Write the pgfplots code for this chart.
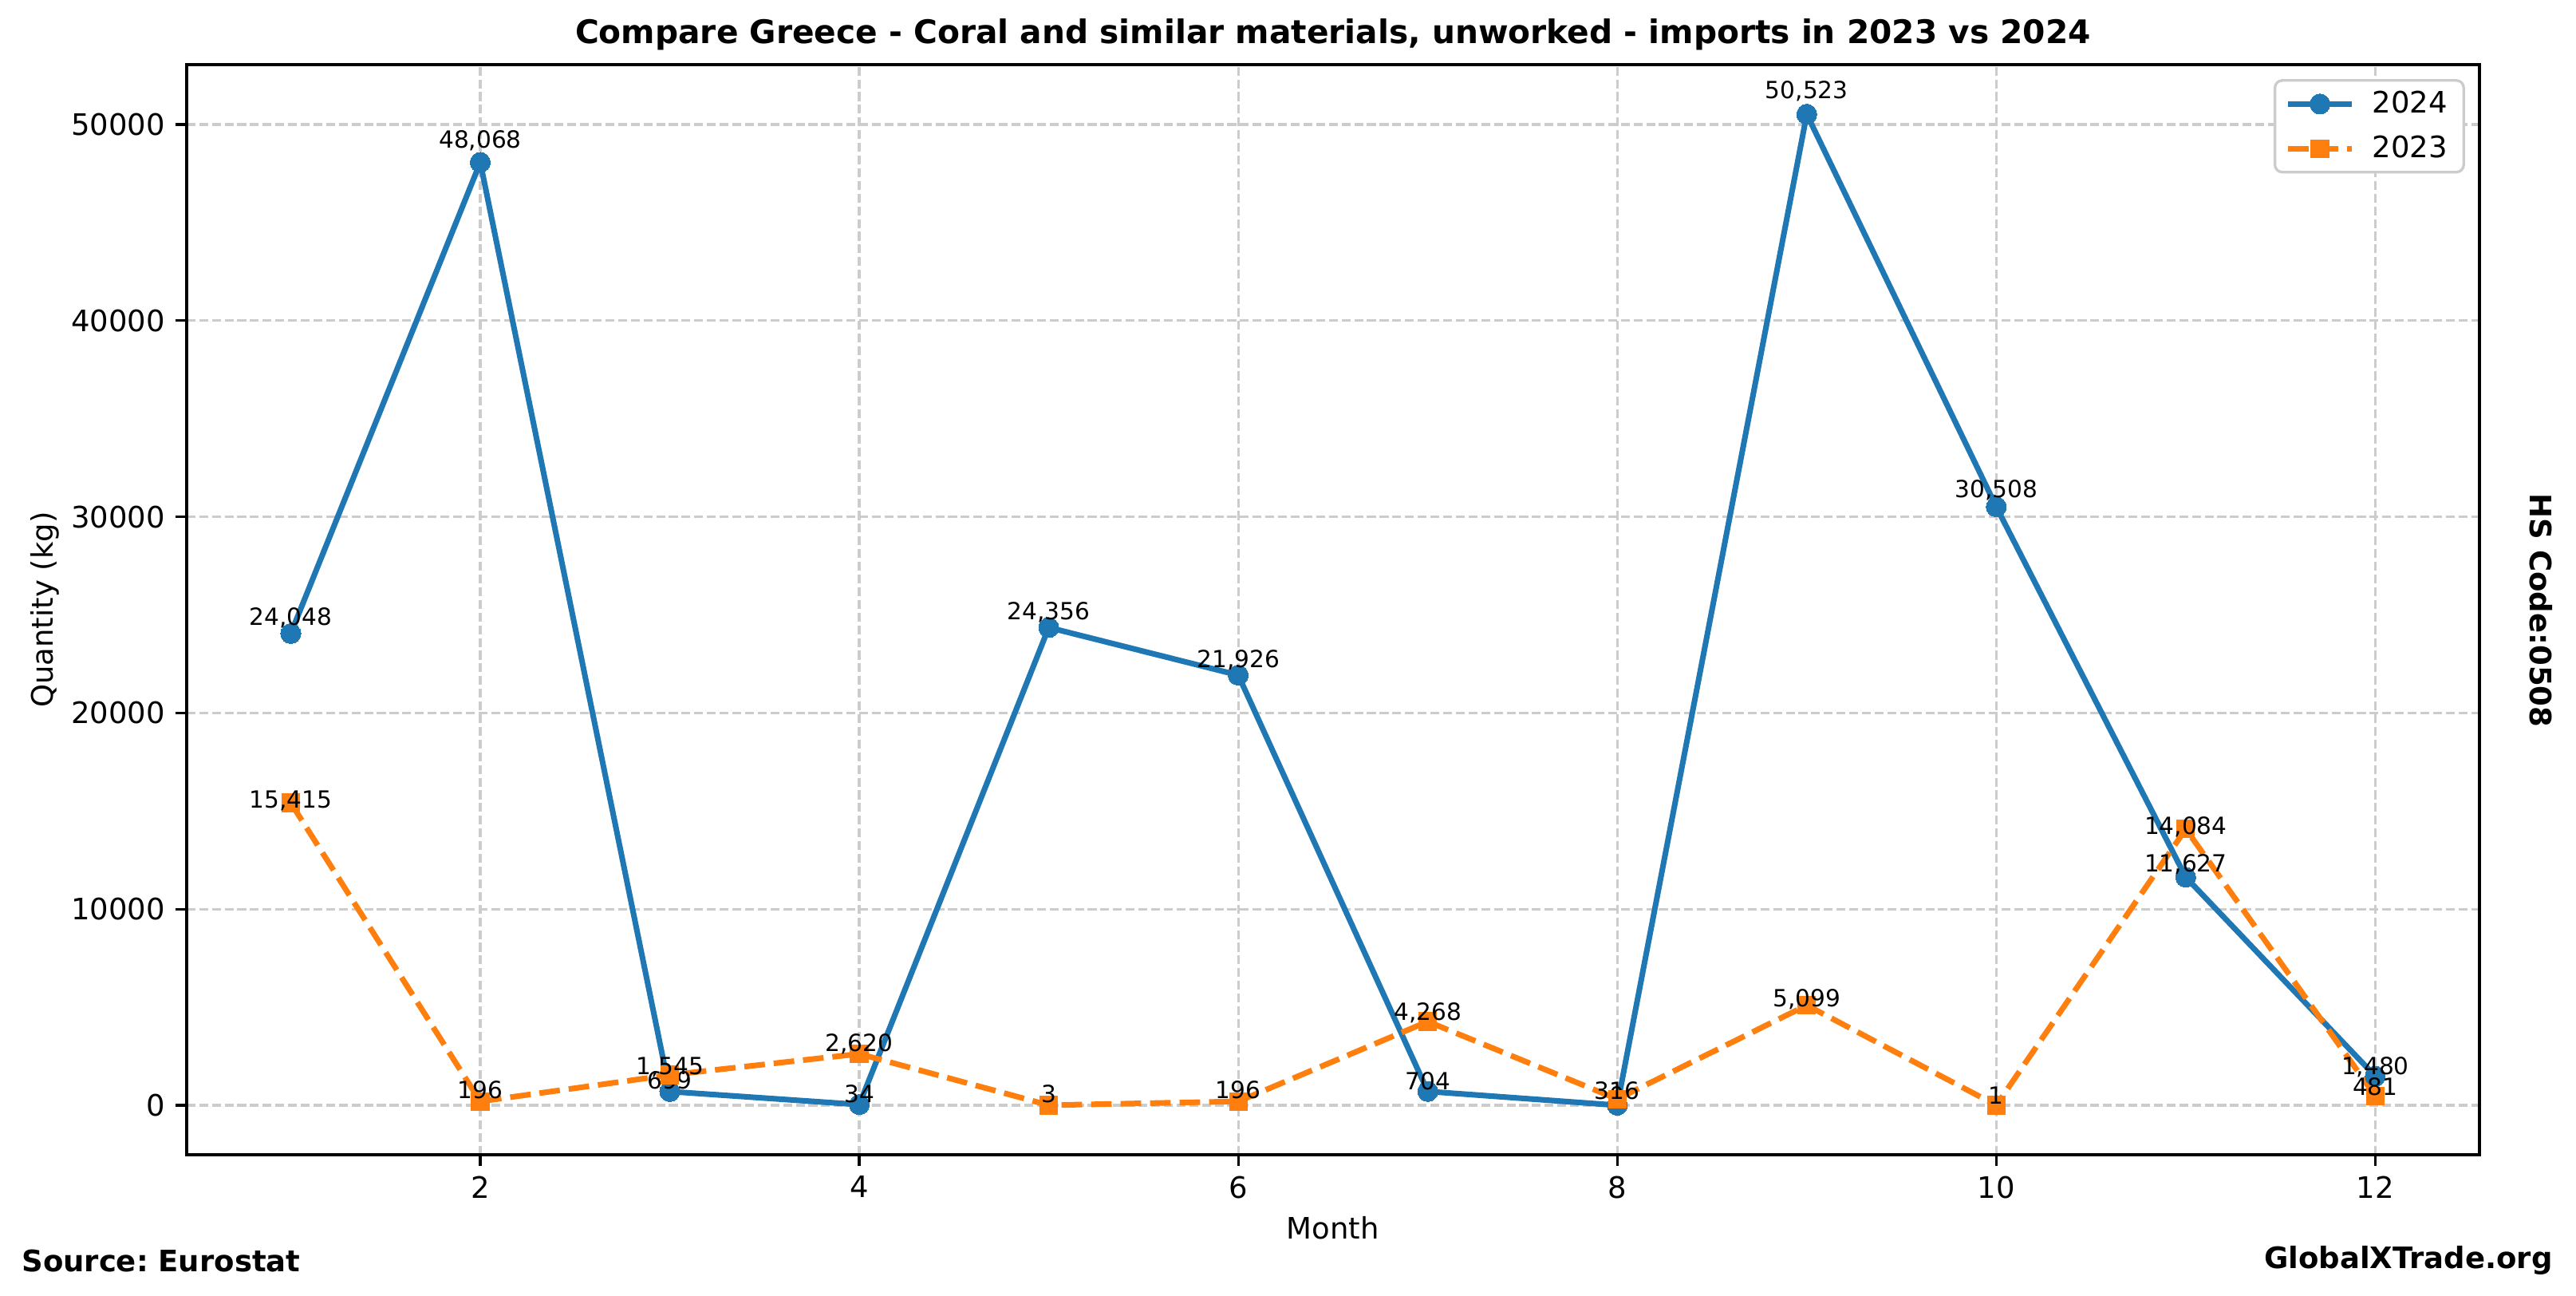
\documentclass[border=0pt]{standalone}
\usepackage{fontspec}
\setmainfont{DejaVu Sans}
\usepackage{pgfplots}
\usepackage{pgfplotstable}
\pgfplotsset{compat=1.18}
\frenchspacing

\definecolor{tabblue}{HTML}{1F77B4}
\definecolor{taborange}{HTML}{FF7F0E}
\definecolor{gridgray}{HTML}{CCCCCC}

% month, value, label, label lift (pt)
\pgfplotstableread{
m v lab dy
1 24048 {24,048} 2.7
2 48068 {48,068} 4.9
3 699 {699} 0.8
4 34 {34} 0.8
5 24356 {24,356} 2.7
6 21926 {21,926} 2.7
7 704 {704} 0.5
8 0 {0} 0.5
9 50523 {50,523} 5.4
10 30508 {30,508} 3.2
11 11627 {11,627} 1.9
12 1480 {1,480} 0.6
}\yeartwentyfour

\pgfplotstableread{
m v lab dy
1 15415 {15,415} -1.6
2 196 {196} 1.1
3 1545 {1,545} 0.2
4 2620 {2,620} 0.8
5 3 {3} 0.8
6 196 {196} 1.1
7 4268 {4,268} 0.3
8 316 {316} 0
9 5099 {5,099} -0.5
10 1 {1} 0.3
11 14084 {14,084} -1.9
12 481 {481} 0.2
}\yeartwentythree

\begin{document}
\begin{tikzpicture}
\useasboundingbox (0,0) rectangle (872.7pt,438.9pt);
\begin{axis}[
    at={(63.2pt,47.8pt)}, anchor=south west,
    scale only axis, width=776.8pt, height=369.2pt,
    xmin=0.45, xmax=12.55, ymin=-2526, ymax=53049,
    xtick={2,4,6,8,10,12},
    ytick={0,10000,20000,30000,40000,50000},
    scaled y ticks=false,
    /pgf/number format/assume math mode=true,
    yticklabel style={/pgf/number format/1000 sep={}},
    tick label style={font=\fontsize{10}{12}\selectfont},
    tick align=outside, tick pos=left, major tick length=3.7pt,
    tick style={black, line width=0.9pt},
    axis line style={line width=0.9pt},
    grid=major,
    major grid style={gridgray, line width=0.9pt, dash pattern=on 3pt off 1.3pt},
    clip=false,
    legend cell align=left,
    legend image code/.code={\draw[mark repeat=2,mark phase=2,#1] plot coordinates {(0pt,0pt) (10.8pt,0pt) (21.6pt,0pt)};},
    legend style={at={(1,1)}, anchor=north east, xshift=-4.9pt, yshift=-4.9pt,
        draw=gridgray, line width=0.9pt, rounded corners=2.5pt, fill=white,
        font=\fontsize{10}{12}\selectfont, inner xsep=3.5pt, inner ysep=1.5pt, row sep=2.2pt,
        /tikz/every odd column/.append style={column sep=4pt}},
    nodes near coords,
    point meta=explicit symbolic,
    visualization depends on={\thisrow{dy} \as \dy},
    nodes near coords style={anchor=base, yshift=\dy pt, inner sep=0pt, text=black,
        font=\fontsize{8}{9.6}\selectfont},
]
\addplot[tabblue, line width=1.9pt, mark=*, mark size=3.4pt,
    mark options={solid, fill=tabblue, draw=tabblue, line width=0pt}]
    table[x=m, y=v, meta=lab] {\yeartwentyfour};
\addlegendentry{2024}
\addplot[taborange, line width=1.9pt, dash pattern=on 7pt off 3pt, mark=square*, mark size=3pt,
    mark options={solid, fill=taborange, draw=taborange, line width=0pt}]
    table[x=m, y=v, meta=lab] {\yeartwentythree};
\addlegendentry{2023}
\end{axis}
\node[font=\bfseries\fontsize{11}{13}\selectfont] at (451.6pt,427.3pt)
    {Compare Greece - Coral and similar materials, unworked - imports in 2023 vs 2024};
\node[font=\fontsize{10}{12}\selectfont] at (451.6pt,22.9pt) {Month};
\node[rotate=90, font=\fontsize{10}{12}\selectfont] at (15.1pt,232.4pt) {Quantity (kg)};
\node[anchor=west, inner sep=0pt, font=\bfseries\fontsize{10}{12}\selectfont] at (7.2pt,11.9pt) {Source: Eurostat};
\node[anchor=east, inner sep=0pt, font=\bfseries\fontsize{10}{12}\selectfont] at (864.9pt,11.9pt) {GlobalXTrade.org};
\node[rotate=-90, font=\bfseries\fontsize{10}{12}\selectfont] at (860.8pt,232.1pt) {HS Code:0508};
\end{tikzpicture}
\end{document}
